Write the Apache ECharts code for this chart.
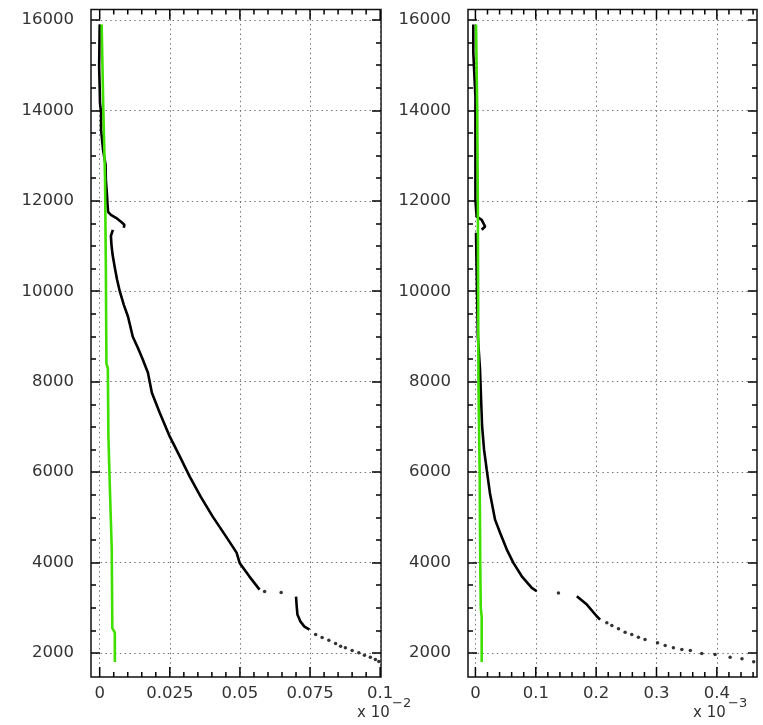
<!DOCTYPE html>
<html>
<head>
<meta charset="utf-8">
<script src="https://cdn.jsdelivr.net/npm/echarts@6/dist/echarts.min.js"></script>
<style>
  html, body { margin: 0; padding: 0; background: #fff; }
  #chart { width: 763px; height: 725px; }
</style>
</head>
<body>
<div id="chart"></div>
<script>
// tick values
const yMajor = [2000, 4000, 6000, 8000, 10000, 12000, 14000, 16000];
const yMinor = [2500, 3000, 3500, 4500, 5000, 5500, 6500, 7000, 7500, 8500, 9000, 9500,
  10500, 11000, 11500, 12500, 13000, 13500, 14500, 15000, 15500];
const leftXMajor = [0, 0.025, 0.05, 0.075, 0.1];
const leftXMinor = [0.005, 0.01, 0.015, 0.02, 0.03, 0.035, 0.04, 0.045, 0.055, 0.06, 0.065, 0.07,
  0.08, 0.085, 0.09, 0.095];
const rightXMajor = [0, 0.1, 0.2, 0.3, 0.4];
const rightXMinor = [0.02, 0.04, 0.06, 0.08, 0.12, 0.14, 0.16, 0.18, 0.22, 0.24, 0.26, 0.28,
  0.32, 0.34, 0.36, 0.38, 0.42, 0.44, 0.46];

// left panel (x 10^-2)
const leftBlackTop = [[0.0, 15900], [-0.0002, 14961], [0.0, 14497], [0.0001, 14166], [0.0005, 13945],
  [0.0005, 13569], [0.0012, 13127], [0.0021, 12796], [0.0022, 12464], [0.0026, 12132], [0.0028, 11911],
  [0.003, 11757], [0.004, 11690], [0.0058, 11624], [0.0076, 11536], [0.0088, 11470], [0.0086, 11403]];
const leftBlackMid = [[0.0047, 11359], [0.004, 11226], [0.0042, 11027], [0.0046, 10806], [0.0054, 10519],
  [0.0062, 10254], [0.0072, 9989], [0.0086, 9700], [0.0101, 9436], [0.0118, 8994], [0.0136, 8751],
  [0.0154, 8486], [0.0172, 8199], [0.0186, 7757], [0.0214, 7315], [0.025, 6784], [0.0286, 6342],
  [0.0321, 5900], [0.036, 5458], [0.0403, 5016], [0.0446, 4618], [0.0488, 4220], [0.0499, 3993],
  [0.0534, 3690], [0.057, 3403]];
const leftBlackLow = [[0.070, 3248], [0.0702, 3070], [0.0705, 2850], [0.0716, 2694], [0.073, 2584],
  [0.0748, 2518]];
const leftBlackDots = [[0.0588, 3359], [0.0647, 3337], [0.077, 2410], [0.0793, 2344], [0.0817, 2283],
  [0.0841, 2210], [0.0859, 2150], [0.0876, 2115], [0.09, 2055], [0.0924, 2004], [0.0944, 1951],
  [0.0965, 1907], [0.0983, 1856], [0.0995, 1812]];
const leftGreen = [[0.0007, 15900], [0.0013, 14000], [0.0019, 12500], [0.0022, 10500], [0.0024, 8400],
  [0.0029, 8300], [0.0031, 6800], [0.0037, 5500], [0.0043, 4300], [0.0045, 2550], [0.0054, 2450],
  [0.0054, 1800]];

// right panel (x 10^-3)
const rightBlackTop = [[-0.0035, 15900], [-0.0035, 15271], [0.0, 14298], [0.0, 12022], [0.002, 11653],
  [0.0104, 11580], [0.016, 11432], [0.0104, 11359]];
const rightBlackMid = [[0.001, 11293], [0.002, 10500], [0.004, 9000], [0.0076, 8265], [0.011, 7027],
  [0.0143, 6497], [0.0187, 6055], [0.024, 5540], [0.0325, 4950], [0.041, 4656], [0.052, 4287],
  [0.0629, 3993], [0.0768, 3697], [0.0934, 3441], [0.1017, 3366]];
const rightBlackLow = [[0.168, 3255], [0.1846, 3072], [0.201, 2813], [0.2066, 2740]];
const rightBlackDots = [[0.1375, 3330], [0.2177, 2667], [0.226, 2607], [0.237, 2535], [0.248, 2460],
  [0.259, 2410], [0.270, 2349], [0.281, 2298], [0.3017, 2225], [0.3144, 2165], [0.328, 2115],
  [0.342, 2077], [0.356, 2055], [0.375, 1989], [0.397, 1967], [0.422, 1907], [0.4416, 1871],
  [0.461, 1805]];
const rightGreen = [[0.001, 15900], [0.003, 14000], [0.004, 12000], [0.0045, 10000], [0.005, 8000],
  [0.007, 6000], [0.008, 4000], [0.0088, 3000], [0.0104, 2800], [0.0104, 1800]];

const Y_MIN = 1470, Y_MAX = 16230;
const FONT = 'DejaVu Sans';
const fmt = v => String(+(+v).toFixed(4));

function xAxis(grid, min, max, major) {
  return {
    type: 'value', gridIndex: grid, min: min, max: max, position: 'bottom',
    axisLine: { show: false, onZero: false },
    axisTick: { show: false, customValues: major.slice() },
    axisLabel: { show: true, customValues: major.slice(), formatter: fmt, margin: 8,
      color: '#333', fontSize: 16.5, fontFamily: FONT },
    splitLine: { show: true, lineStyle: { color: '#777', width: 1, type: [1.5, 3.3] } }
  };
}

function yTickAxis(grid, pos, values, len, label) {
  const ax = {
    type: 'value', gridIndex: grid, min: Y_MIN, max: Y_MAX, position: pos,
    axisLine: { show: false, onZero: false },
    axisTick: { show: true, inside: true, length: len, customValues: values.slice(), lineStyle: { color: '#000', width: 1.5 } },
    axisLabel: { show: false },
    splitLine: { show: false }
  };
  if (label) {
    ax.axisLabel = { show: true, customValues: values.slice(), formatter: v => String(v),
      margin: 17, color: '#333', fontSize: 16.5, fontFamily: FONT };
    ax.splitLine = { show: true, lineStyle: { color: '#777', width: 1, type: [1.5, 3.3] } };
  }
  return ax;
}
function yAxes(grid) {
  return [
    yTickAxis(grid, 'left', yMajor, 9, true),
    yTickAxis(grid, 'left', yMinor, 5, false),
    yTickAxis(grid, 'right', yMajor, 9, false),
    yTickAxis(grid, 'right', yMinor, 5, false)
  ];
}

// x ticks on the bottom and top frame edges, placed through the axis scale
function xTickSeries(xi, yi, values, len) {
  return {
    type: 'custom', xAxisIndex: xi, yAxisIndex: yi, silent: true, clip: false, z: 5,
    data: values.map(v => [v, Y_MIN]),
    renderItem: function (params, api) {
      const b = api.coord([api.value(0), Y_MIN]);
      const t = api.coord([api.value(0), Y_MAX]);
      const st = { stroke: '#000', lineWidth: 1.5 };
      return {
        type: 'group', children: [
          { type: 'line', shape: { x1: b[0], y1: b[1], x2: b[0], y2: b[1] - len }, style: st },
          { type: 'line', shape: { x1: t[0], y1: t[1], x2: t[0], y2: t[1] + len }, style: st }
        ]
      };
    }
  };
}

function lineSeries(xi, yi, data, color, width) {
  return {
    type: 'line', xAxisIndex: xi, yAxisIndex: yi, data: data, showSymbol: false,
    lineStyle: { color: color, width: width }, silent: true
  };
}
function dotSeries(xi, yi, data) {
  return {
    type: 'scatter', xAxisIndex: xi, yAxisIndex: yi, data: data, symbolSize: 3.5,
    itemStyle: { color: '#000' }, silent: true
  };
}

const myChart = echarts.init(document.getElementById('chart'));
const option = {
  animation: false,
  grid: [
    { left: 91, right: 382, top: 9.5, bottom: 48, show: true, borderColor: '#111', borderWidth: 1.5 },
    { left: 468, right: 6, top: 9.5, bottom: 48, show: true, borderColor: '#111', borderWidth: 1.5 }
  ],
  xAxis: [
    xAxis(0, -0.0031, 0.1003, leftXMajor),
    xAxis(1, -0.0123, 0.4665, rightXMajor)
  ],
  yAxis: yAxes(0).concat(yAxes(1)),
  series: [
    xTickSeries(0, 0, leftXMajor, 10),
    xTickSeries(0, 0, leftXMinor, 5),
    xTickSeries(1, 4, rightXMajor, 10),
    xTickSeries(1, 4, rightXMinor, 5),
    lineSeries(0, 0, leftBlackTop, '#000', 2.6),
    lineSeries(0, 0, leftBlackMid, '#000', 2.6),
    lineSeries(0, 0, leftBlackLow, '#000', 2.6),
    dotSeries(0, 0, leftBlackDots),
    lineSeries(0, 0, leftGreen, '#3fe000', 2.6),
    lineSeries(1, 4, rightBlackTop, '#000', 2.6),
    lineSeries(1, 4, rightBlackMid, '#000', 2.6),
    lineSeries(1, 4, rightBlackLow, '#000', 2.6),
    dotSeries(1, 4, rightBlackDots),
    lineSeries(1, 4, rightGreen, '#3fe000', 2.6)
  ],
  graphic: [
    { type: 'text', left: 357, top: 706, style: { text: 'x 10', fontSize: 15, fontFamily: FONT, fill: '#333' } },
    { type: 'text', left: 392, top: 697, style: { text: '\u22122', fontSize: 13, fontFamily: FONT, fill: '#333' } },
    { type: 'text', left: 693, top: 706, style: { text: 'x 10', fontSize: 15, fontFamily: FONT, fill: '#333' } },
    { type: 'text', left: 728, top: 697, style: { text: '\u22123', fontSize: 13, fontFamily: FONT, fill: '#333' } }
  ]
};
myChart.setOption(option);

window.addEventListener('resize', () => {
  myChart.resize();
});
</script>
</body>
</html>
